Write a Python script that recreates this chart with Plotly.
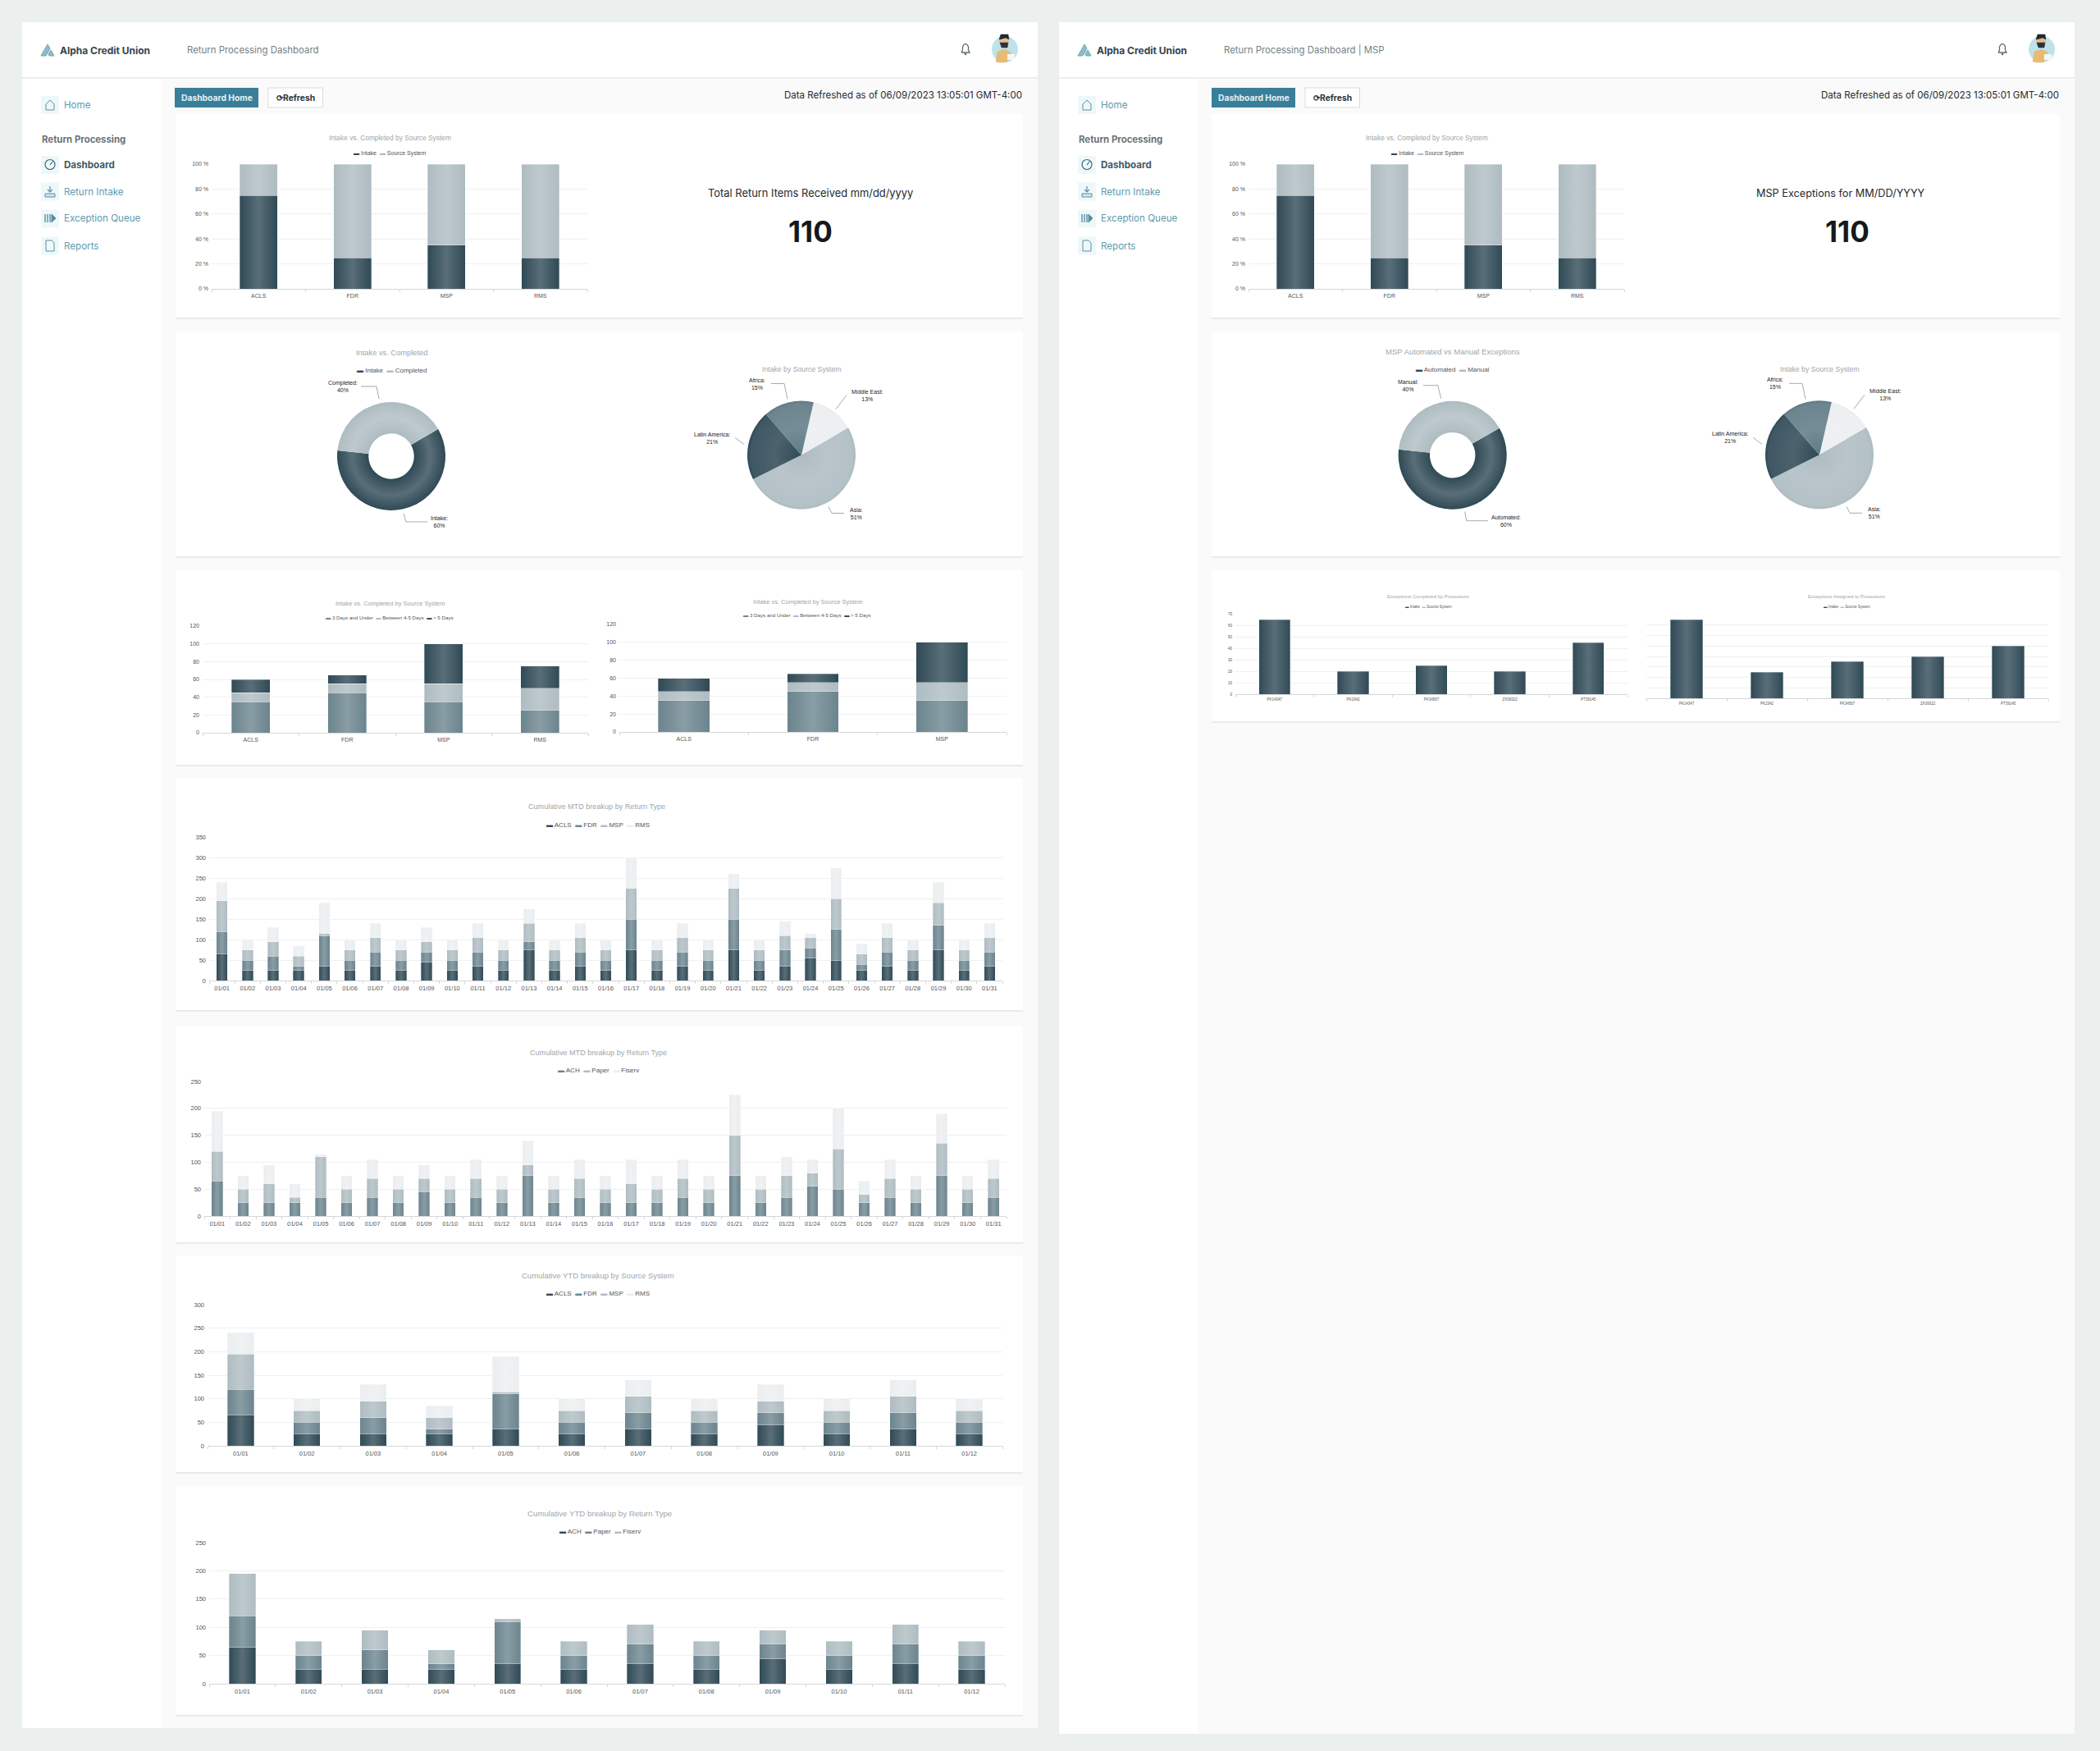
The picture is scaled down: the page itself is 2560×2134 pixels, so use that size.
import plotly.graph_objects as go

W = 2560
H = 2134
PANEL_DX = 1264

DARK = '#2f4a56'
MID = '#6b848e'
SOFT = '#aebcc1'
PALE = '#ebeef0'

# ---- data ----
systems = ['ACLS', 'FDR', 'MSP', 'RMS']
intake_pct = [75, 25, 35, 25]
source_pct = [25, 75, 65, 75]

aging_under3 = [35, 45, 35, 25]
aging_4to5 = [10, 10, 20, 25]
aging_over5 = [15, 10, 45, 25]

donut_left_labels = ['Intake', 'Completed']
donut_right_labels = ['Automated', 'Manual']
donut_values = [60, 40]

regions = ['Middle East', 'Asia', 'Latin America', 'Africa']
region_values = [13, 51, 21, 15]

days = ['01/01', '01/02', '01/03', '01/04', '01/05', '01/06', '01/07', '01/08', '01/09', '01/10', '01/11',
        '01/12', '01/13', '01/14', '01/15', '01/16', '01/17', '01/18', '01/19', '01/20', '01/21', '01/22',
        '01/23', '01/24', '01/25', '01/26', '01/27', '01/28', '01/29', '01/30', '01/31']
mtd_acls = [65, 25, 25, 25, 35, 25, 35, 25, 45, 25, 35, 25, 75, 25, 35, 25, 75, 25, 35, 25, 75, 25, 35, 55, 50, 25, 35, 25, 75, 25, 35]
mtd_fdr = [55, 25, 35, 10, 75, 25, 35, 25, 25, 25, 35, 25, 20, 25, 35, 25, 75, 25, 35, 25, 75, 25, 40, 25, 75, 15, 35, 25, 60, 25, 35]
mtd_msp = [75, 25, 35, 25, 5, 25, 35, 25, 25, 25, 35, 25, 45, 25, 35, 25, 75, 25, 35, 25, 75, 25, 35, 25, 75, 25, 35, 25, 55, 25, 35]
mtd_rms = [45, 25, 35, 25, 75, 25, 35, 25, 35, 25, 35, 25, 35, 25, 35, 25, 75, 25, 35, 25, 35, 25, 35, 10, 75, 25, 35, 25, 50, 25, 35]

mtd_ach = [65, 25, 25, 25, 35, 25, 35, 25, 45, 25, 35, 25, 75, 25, 35, 25, 25, 25, 35, 25, 75, 25, 35, 55, 50, 25, 35, 25, 75, 25, 35]
mtd_paper = [55, 25, 35, 10, 75, 25, 35, 25, 25, 25, 35, 25, 20, 25, 35, 25, 35, 25, 35, 25, 75, 25, 40, 25, 75, 15, 35, 25, 60, 25, 35]
mtd_fiserv = [75, 25, 35, 25, 5, 25, 35, 25, 25, 25, 35, 25, 45, 25, 35, 25, 45, 25, 35, 25, 75, 25, 35, 25, 75, 25, 35, 25, 55, 25, 35]

months = ['01/01', '01/02', '01/03', '01/04', '01/05', '01/06', '01/07', '01/08', '01/09', '01/10', '01/11', '01/12']
ytd_acls = [65, 25, 25, 25, 35, 25, 35, 25, 45, 25, 35, 25]
ytd_fdr = [55, 25, 35, 10, 75, 25, 35, 25, 25, 25, 35, 25]
ytd_msp = [75, 25, 35, 25, 5, 25, 35, 25, 25, 25, 35, 25]
ytd_rms = [45, 25, 35, 25, 75, 25, 35, 25, 35, 25, 35, 25]
ytd_ach = [65, 25, 25, 25, 35, 25, 35, 25, 45, 25, 35, 25]
ytd_paper = [55, 25, 35, 10, 75, 25, 35, 25, 25, 25, 35, 25]
ytd_fiserv = [75, 25, 35, 25, 5, 25, 35, 25, 25, 25, 35, 25]

processors = ['PK14347', 'PK2342', 'PK34567', 'ZX09322', 'PT39145']
completed_by_processor = [65, 20, 25, 20, 45]
assigned_to_processor = [75, 25, 35, 40, 50]

fig = go.Figure()
shapes = []
notes = []
axis_count = 0


def px(x):
    return x / W


def py(y):
    return 1 - y / H


def rect(x0, y0, x1, y1, fill, line=None, lw=0):
    shapes.append(dict(type='rect', xref='paper', yref='paper', layer='below', x0=px(x0), x1=px(x1),
                       y0=py(y1), y1=py(y0), fillcolor=fill, line=dict(color=line, width=lw)))


def dot(cx, cy, r, fill, line=None, lw=0):
    shapes.append(dict(type='circle', xref='paper', yref='paper', layer='below', x0=px(cx - r), x1=px(cx + r),
                       y0=py(cy + r), y1=py(cy - r), fillcolor=fill, line=dict(color=line, width=lw)))


def poly(points, color='#8a9296', lw=1, fill=None):
    path = 'M ' + ' L '.join(f'{px(a):.5f} {py(b):.5f}' for a, b in points)
    if fill:
        path += ' Z'
    shapes.append(dict(type='path', xref='paper', yref='paper', layer='below', path=path,
                       line=dict(color=color, width=lw), fillcolor=fill))


def label(x, y, text, size=10, color='#444', font='Liberation Sans', anchor='center'):
    notes.append(dict(xref='paper', yref='paper', x=px(x), y=py(y), text=text, showarrow=False, xanchor=anchor,
                      yanchor='middle', font=dict(size=size, color=color, family=font)))


def legend_text(items):
    parts = [f'<span style="color:{c}">▬</span> {n}' for n, c in items]
    return '  '.join(parts)


def stacked(cats, series, box, ymax, dtick, title, title_xy, legend_xy, title_size, legend_size, tick_size,
            gap=0.6, suffix='', hide_y=False):
    global axis_count
    axis_count += 1
    suffix_id = '' if axis_count == 1 else str(axis_count)
    left, right, top, bottom = box
    for name, values, color in series:
        fig.add_trace(go.Bar(x=cats, y=values, name=name, width=1 - gap,
                             marker=dict(color=color, line=dict(color='rgba(255,255,255,0.55)', width=0.6)),
                             xaxis='x' + suffix_id, yaxis='y' + suffix_id, showlegend=False))
    fig.update_layout({
        'xaxis' + suffix_id: dict(domain=[px(left), px(right)], anchor='y' + suffix_id, type='category',
                                  categoryorder='array', categoryarray=cats, automargin=False,
                                  showline=True, linecolor='#d3d7d9', linewidth=1, showgrid=False, ticks='outside',
                                  tickson='boundaries', ticklen=3, tickcolor='#d3d7d9', ticklabelstandoff=2,
                                  tickfont=dict(size=tick_size, color='#555', family='Liberation Sans')),
        'yaxis' + suffix_id: dict(domain=[py(bottom), py(top)], anchor='x' + suffix_id, range=[0, ymax], dtick=dtick,
                                  ticksuffix=suffix, showgrid=True, gridcolor='#eef0f1', gridwidth=1, zeroline=False,
                                  showline=False, showticklabels=not hide_y, automargin=False, ticklabelstandoff=3,
                                  tickfont=dict(size=tick_size, color='#555', family='Liberation Sans')),
    })
    label(title_xy[0], title_xy[1], title, title_size, '#a0a6a9')
    label(legend_xy[0], legend_xy[1], legend_text([(s[0], s[2]) for s in series]), legend_size, '#555')


def round_chart(labels, values, colors, centre, r, hole, rotation, title, title_xy, callouts, title_size=9.3):
    cx, cy = centre
    fig.add_trace(go.Pie(labels=labels, values=values, sort=False, direction='clockwise', rotation=rotation,
                         hole=hole, marker=dict(colors=colors, line=dict(width=0)), textinfo='none',
                         showlegend=False, domain=dict(x=[px(cx - r), px(cx + r)], y=[py(cy + r), py(cy - r)])))
    label(title_xy[0], title_xy[1], title, title_size, '#a0a6a9')
    for text, tx, ty, pts in callouts:
        label(cx + tx, cy + ty, text, 7, '#222')
        poly([(cx + a, cy + b) for a, b in pts], '#8d9599', 0.8)


def nav_box(x, y):
    rect(x, y - 11, x + 22, y + 11, '#eef8fa')


def draw_chrome(dx, bottom, title):
    teal = '#5f9bae'
    # panel, main area and header
    rect(27 + dx, 27, 1264 + dx + 1, bottom, '#ffffff')
    rect(196 + dx, 94, 1264 + dx + 1, bottom, '#fafafa')
    rect(27 + dx, 94, 1264 + dx + 1, 96, '#eceeee')
    # logo
    poly([(50 + dx, 68), (58 + dx, 54), (61 + dx, 59), (56 + dx, 68)], '#6fa7b6', 1, '#8fbcc8')
    poly([(59 + dx, 66), (62 + dx, 61), (66 + dx, 68), (60 + dx, 68)], '#6fa7b6', 1, '#8fbcc8')
    label(71 + dx, 61.5, '<b>Alpha Credit Union</b>', 12, '#33444d', 'Inter', 'left')
    label(226 + dx, 61, title, 11.4, '#737f85', 'Inter', 'left')
    # bell
    poly([(1172 + dx, 64), (1173.5 + dx, 61), (1173.5 + dx, 57), (1175 + dx, 54.5), (1177 + dx, 53.5), (1179 + dx, 54.5),
          (1180.5 + dx, 57), (1180.5 + dx, 61), (1182 + dx, 64), (1172 + dx, 64)], '#5f6b71', 1.3)
    dot(1177 + dx, 66, 1.3, '#5f6b71')
    # avatar
    dot(1225 + dx, 60, 16, '#bfe2ea')
    poly([(1214 + dx, 75), (1216 + dx, 63), (1225 + dx, 60), (1232 + dx, 64), (1233 + dx, 71), (1226 + dx, 76), (1218 + dx, 76)], '#e4b56e', 0.5, '#e8bb74')
    rect(1228 + dx, 66, 1237 + dx, 73, '#f4f6f7')
    dot(1224 + dx, 50, 6, '#e6b98c')
    poly([(1218 + dx, 48), (1220 + dx, 42), (1229 + dx, 42), (1230 + dx, 48), (1226 + dx, 46), (1219 + dx, 48)], '#1f2a30', 0.5, '#1f2a30')
    poly([(1219 + dx, 52), (1229 + dx, 52), (1228 + dx, 58), (1221 + dx, 58)], '#2a3438', 0.5, '#2a3438')
    # sidebar
    for y, text, col in [(128, 'Home', teal), (201, '<b>Dashboard</b>', '#3e5a66'), (233.5, 'Return Intake', teal),
                         (266.5, 'Exception Queue', teal), (299.5, 'Reports', teal)]:
        nav_box(50 + dx, y)
        label(76 + dx, y, text, 11.6, col, 'Inter', 'left')
    label(49 + dx, 170, '<b>Return Processing</b>', 11.4, '#6b7378', 'Inter', 'left')
    ic = '#5a8ea0'
    poly([(56 + dx, 134), (56 + dx, 127), (61 + dx, 122), (66 + dx, 127), (66 + dx, 134), (56 + dx, 134)], ic, 1)
    dot(61 + dx, 200.5, 6, None, '#3e6a7a', 1.2)
    poly([(61 + dx, 201), (64 + dx, 197)], '#3e6a7a', 1.2)
    poly([(61 + dx, 227), (61 + dx, 234)], ic, 1.2)
    poly([(58 + dx, 231), (61 + dx, 234), (64 + dx, 231)], ic, 1.2)
    rect(55 + dx, 236, 67 + dx, 240, '#d3e6ec', ic, 1)
    for xx in (55, 58, 61):
        poly([(xx + dx, 261), (xx + dx, 271)], ic, 1.4)
    poly([(63 + dx, 261), (68 + dx, 266), (63 + dx, 271)], ic, 1, ic)
    poly([(56 + dx, 293), (63 + dx, 293), (66 + dx, 296), (66 + dx, 306), (56 + dx, 306), (56 + dx, 293)], ic, 1)
    # buttons and refresh stamp
    rect(213 + dx, 107, 315 + dx, 131, '#397f99')
    label(264 + dx, 119, '<b>Dashboard Home</b>', 10.3, '#e4eff3', 'Inter')
    rect(327 + dx, 107, 393.5 + dx, 131, '#ffffff', '#d8dcde', 1)
    label(360.5 + dx, 119, '<b>⟳Refresh</b>', 10.3, '#2a3438', 'Inter')
    label(1248 + dx, 116, 'Data Refreshed as of 06/09/2023 13:05:01 GMT-4:00', 11.5, '#1f2a30', 'Inter', 'right')


def card(x0, y0, x1, y1):
    rect(x0, y0 + 1, x1, y1 + 2, '#e9ebeb')
    rect(x0, y0, x1, y1, '#ffffff')


draw_chrome(0, 2106, 'Return Processing Dashboard')
draw_chrome(PANEL_DX, 2113, 'Return Processing Dashboard | MSP')

for top, bottom in [(139, 387), (404, 678), (695, 932), (949, 1231), (1251, 1514), (1530, 1794), (1811, 2090)]:
    card(214, top, 1247, bottom)
for top, bottom in [(139, 387), (404, 678), (695, 879)]:
    card(1477, top, 2511, bottom)

# ---- first row ----
pct_series = [('Intake', intake_pct, DARK), ('Source System', source_pct, SOFT)]
stacked(systems, pct_series, (258, 716, 200, 352), 100, 20, 'Intake vs. Completed by Source System', (475, 168), (475, 187), 8.4, 7, 7, suffix=' %')
stacked(systems, pct_series, (1522, 1980, 200, 352), 100, 20, 'Intake vs. Completed by Source System', (1739.5, 168), (1739.5, 187), 8.4, 7, 7, suffix=' %')

label(988, 235, 'Total Return Items Received mm/dd/yyyy', 12.9, '#1f2a30', 'Inter')
label(988, 282, '<b>110</b>', 35, '#15191c', 'Inter')
label(2244, 235, 'MSP Exceptions for MM/DD/YYYY', 12.7, '#1f2a30', 'Inter')
label(2252, 282, '<b>110</b>', 35, '#15191c', 'Inter')

# ---- donuts and pies ----
round_chart(donut_left_labels, donut_values, [DARK, SOFT], (477, 556), 66, 0.42, 60, 'Intake vs. Completed', (477, 430), [
    ('Completed:<br>40%', -59, -85, [(-37, -85), (-18, -85), (-15, -70)]),
    ('Intake:<br>60%', 58, 80, [(15, 70), (18, 80), (44, 80)]),
])
label(477, 451, legend_text([('Intake', DARK), ('Completed', SOFT)]), 8, '#555')
round_chart(donut_right_labels, donut_values, [DARK, SOFT], (1770.7, 554.7), 66, 0.42, 60, 'MSP Automated vs Manual Exceptions', (1770.7, 429), [
    ('Manual:<br>40%', -54, -85, [(-36, -85), (-18, -85), (-14, -69)]),
    ('Automated:<br>60%', 65, 80, [(15, 69), (17, 80), (43, 80)]),
], 9.5)
label(1770.7, 450.7, legend_text([('Automated', DARK), ('Manual', SOFT)]), 8, '#555')

region_colors = [PALE, SOFT, DARK, '#5f7a85']
region_callouts = [
    ('Africa:<br>15%', -54, -87, [(-37, -87), (-21, -87), (-17, -68)]),
    ('Middle East:<br>13%', 80, -73, [(55, -73), (42, -56)]),
    ('Latin America:<br>21%', -109, -21, [(-81, -21), (-70, -13)]),
    ('Asia:<br>51%', 67, 71, [(33, 63), (37, 71), (52, 71)]),
]
round_chart(regions, region_values, region_colors, (977, 554.5), 66, 0, 13, 'Intake by Source System', (977, 450), region_callouts, 8.7)
round_chart(regions, region_values, region_colors, (2218, 554.3), 66, 0, 13, 'Intake by Source System', (2218, 450), region_callouts, 8.7)

# ---- third row ----
aging = [('3 Days and Under', aging_under3, MID), ('Between 4-5 Days', aging_4to5, SOFT), ('> 5 Days', aging_over5, DARK)]
stacked(systems, aging, (247, 717, 763, 893), 120, 20, 'Intake vs. Completed by Source System', (475, 735), (475, 752), 7.5, 6.2, 7)
stacked(systems[:3], [(n, v[:3], c) for n, v, c in aging], (755, 1227, 761, 892), 120, 20, 'Intake vs. Completed by Source System', (984, 733.5), (984, 750), 7.5, 6.2, 7)

stacked(processors, [('Intake', completed_by_processor, DARK)], (1506, 1984, 748, 846), 70, 10,
        'Exceptions Completed by Processors', (1741, 727), (1741, 739), 6, 4.5, 4.5)
notes[-1]['text'] = legend_text([('Intake', DARK), ('Source System', SOFT)])
stacked(processors, [('Intake', assigned_to_processor, DARK)], (2007, 2497, 749, 851), 80, 10,
        'Exceptions Assigned to Processors', (2251, 727), (2251, 740), 6, 4.5, 4.5, hide_y=True)
notes[-1]['text'] = legend_text([('Intake', DARK), ('Source System', SOFT)])

# ---- cumulative charts ----
stacked(days, [('ACLS', mtd_acls, DARK), ('FDR', mtd_fdr, MID), ('MSP', mtd_msp, SOFT), ('RMS', mtd_rms, PALE)],
        (255, 1222, 1020, 1195), 350, 50, 'Cumulative MTD breakup by Return Type', (727, 983), (729, 1005), 9.1, 8, 7.5, gap=0.57)
stacked(days, [('ACH', mtd_ach, MID), ('Paper', mtd_paper, SOFT), ('Fiserv', mtd_fiserv, PALE)],
        (249, 1227, 1318, 1482), 250, 50, 'Cumulative MTD breakup by Return Type', (729, 1283), (729, 1304), 9.1, 8, 7.5, gap=0.57)
stacked(months, [('ACLS', ytd_acls, DARK), ('FDR', ytd_fdr, MID), ('MSP', ytd_msp, SOFT), ('RMS', ytd_rms, PALE)],
        (253, 1222, 1590, 1762), 300, 50, 'Cumulative YTD breakup by Source System', (729, 1554), (729, 1576), 9.5, 8, 7.5)
stacked(months, [('ACH', ytd_ach, DARK), ('Paper', ytd_paper, MID), ('Fiserv', ytd_fiserv, SOFT)],
        (255, 1225, 1880, 2052), 250, 50, 'Cumulative YTD breakup by Return Type', (731, 1844), (731, 1866), 9.7, 8, 7.5)

fig.update_layout(width=W, height=H, margin=dict(l=0, r=0, t=0, b=0, autoexpand=False), barmode='stack',
                  paper_bgcolor='#ebefee', plot_bgcolor='rgba(0,0,0,0)', shapes=shapes, annotations=notes,
                  hovermode=False)

# page margin off, plus the soft gradients the reference has on its bars and slices
page_fix = """
document.documentElement.style.background = '#ebefee';
document.body.style.margin = '0';
document.body.style.background = '#ebefee';
var gd = document.querySelector('.plotly-graph-div');
var svg = gd.querySelector('svg.main-svg');
var defs = svg.querySelector('defs');
var NS = 'http://www.w3.org/2000/svg';
var count = 0;
function lift(rgb, amt) {
  var m = rgb.match(/[0-9.]+/g).map(Number);
  var c = m.slice(0, 3).map(function (v) { return Math.round(v + (255 - v) * amt); });
  return 'rgb(' + c.join(',') + ')';
}
function addStops(g, rgb, stops) {
  stops.forEach(function (s) {
    var st = document.createElementNS(NS, 'stop');
    st.setAttribute('offset', s[0]);
    st.setAttribute('stop-color', lift(rgb, s[1]));
    g.appendChild(st);
  });
  g.setAttribute('id', 'shade' + (count++));
  defs.appendChild(g);
  return 'url(#' + g.getAttribute('id') + ')';
}
var barFills = {};
gd.querySelectorAll('.barlayer .point path').forEach(function (p) {
  var rgb = p.style.fill;
  if (!barFills[rgb]) {
    barFills[rgb] = addStops(document.createElementNS(NS, 'linearGradient'), rgb, [[0, 0], [0.5, 0.2], [1, 0]]);
  }
  p.style.fill = barFills[rgb];
});
gd.querySelectorAll('.pielayer .trace').forEach(function (t) {
  var paths = Array.from(t.querySelectorAll('.slice path.surface'));
  var boxes = paths.map(function (p) { return p.getBBox(); });
  var x0 = Math.min.apply(null, boxes.map(function (b) { return b.x; }));
  var x1 = Math.max.apply(null, boxes.map(function (b) { return b.x + b.width; }));
  var y0 = Math.min.apply(null, boxes.map(function (b) { return b.y; }));
  var y1 = Math.max.apply(null, boxes.map(function (b) { return b.y + b.height; }));
  var stops = paths.length == 2 ? [[0.42, 0], [0.72, 0.2], [1, 0]] : [[0, 0], [0.5, 0.14], [0.94, 0.08], [1, 0]];
  paths.forEach(function (p) {
    var g = document.createElementNS(NS, 'radialGradient');
    g.setAttribute('gradientUnits', 'userSpaceOnUse');
    g.setAttribute('cx', (x0 + x1) / 2);
    g.setAttribute('cy', (y0 + y1) / 2);
    g.setAttribute('r', (x1 - x0) / 2);
    p.style.fill = addStops(g, p.style.fill, stops);
  });
});
"""

fig.write_html("out.html", post_script=page_fix, config=dict(displayModeBar=False))
